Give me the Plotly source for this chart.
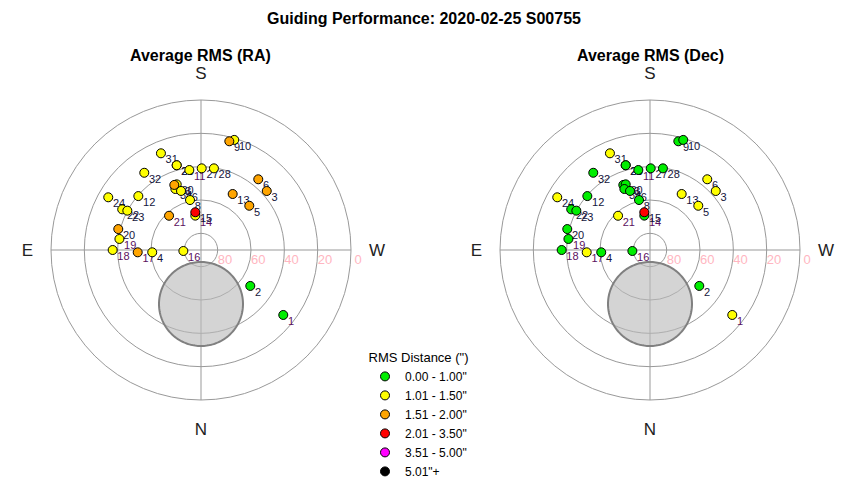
import numpy as np
import plotly.graph_objects as go

# ---------------- data ----------------
labels = ["1", "2", "3", "4", "5", "6", "8", "9", "10", "11", "12", "13", "14", "15",
          "16", "17", "18", "19", "20", "21", "22", "23", "24", "25", "26", "27", "28",
          "31", "32", "33", "30", "34", "36"]
azimuth = [308.3, 306.1, 228.1, 87.3, 227.5, 219.0, 167.6, 194.6, 196.8, 171.7, 130.7, 209.5,
           170.6, 171.4, 86.8, 87.9, 90.0, 97.7, 104.2, 137.0, 117.3, 118.1, 119.6, 164.0,
           164.0, 180.5, 189.0, 157.5, 143.7, 157.7, 159.7, 157.2, 161.3]
altitude = [27.1, 53.4, 37.0, 60.7, 50.7, 35.4, 59.3, 22.6, 21.0, 41.5, 40.4, 51.4,
            69.1, 67.1, 79.4, 52.0, 37.0, 40.6, 38.8, 61.9, 36.8, 39.9, 26.0, 37.1,
            37.1, 41.0, 40.4, 27.2, 32.5, 47.8, 48.0, 50.3, 52.6]
# RMS category index (0..5) per point
ra_class = [0, 0, 2, 1, 2, 2, 1, 2, 1, 1, 1, 2, 1, 3, 1, 2, 1, 1, 2, 2, 1, 1, 1, 1,
            1, 1, 1, 1, 1, 2, 1, 1, 1]
dec_class = [1, 0, 1, 0, 1, 1, 0, 0, 0, 0, 0, 1, 0, 3, 0, 1, 0, 0, 0, 1, 0, 0, 1, 0,
             0, 0, 0, 1, 0, 0, 0, 0, 0]
purple_labels = ["1", "11", "14", "16", "17", "18", "19", "21"]

class_names = ['0.00 - 1.00"', '1.01 - 1.50"', '1.51 - 2.00"', '2.01 - 3.50"',
               '3.51 - 5.00"', '5.01"+']
class_colors = ["#00EE00", "#FFFF00", "#FFA500", "#FF0000", "#FF00FF", "#000000"]

# obstruction disc (altitude/azimuth of centre, radius in degrees)
disc_alt, disc_az, disc_radius = 57.6, 0.0, 25.2

radial_ticks = [80, 60, 40, 20, 0]
compass_vals = [0, 90, 180, 270]
compass_text = ["N", "E", "S", "W"]

FONT = "Liberation Sans, Arial, sans-serif"
GRID = "#999999"

W, H = 850, 480


def xp(px):
    return px / W


def yp(py):
    return 1 - py / H


# ---------------- figure ----------------
fig = go.Figure()

# disc outline in polar coordinates
t = np.linspace(0, 2 * np.pi, 181)
rho0 = 90 - disc_alt
u = disc_radius * np.cos(t) + rho0 * np.sin(np.radians(disc_az))
v = disc_radius * np.sin(t) + rho0 * np.cos(np.radians(disc_az))
disc_rho = np.hypot(u, v)
disc_theta = np.degrees(np.arctan2(u, v)) % 360
disc_r = 90 - disc_rho

label_colors = ["#5C1060" if l in purple_labels else "#14143C" for l in labels]
label_text = ["\u00a0" + l for l in labels]

for k, (sub, cls) in enumerate([("polar", ra_class), ("polar2", dec_class)]):
    fig.add_trace(go.Scatterpolar(
        r=disc_r, theta=disc_theta, mode="lines", fill="toself",
        fillcolor="rgba(185,185,185,0.62)", line=dict(color="#808080", width=2),
        hoverinfo="skip", showlegend=False, subplot=sub))
    # labels
    fig.add_trace(go.Scatterpolar(
        r=altitude, theta=azimuth, mode="markers+text", text=label_text,
        textposition="bottom right",
        textfont=dict(family=FONT, size=11, color=label_colors),
        marker=dict(size=1, color="rgba(0,0,0,0)"),
        hoverinfo="skip", showlegend=False, subplot=sub))
    for c in range(len(class_names)):
        idx = [i for i, v_ in enumerate(cls) if v_ == c]
        rr = [altitude[i] for i in idx] or [None]
        tt = [azimuth[i] for i in idx] or [None]
        fig.add_trace(go.Scatterpolar(
            r=rr, theta=tt,
            mode="markers", name=class_names[c], legendgroup=class_names[c],
            showlegend=(k == 0),
            marker=dict(size=9, color=class_colors[c], line=dict(color="black", width=1)),
            text=[labels[i] for i in idx] or [""], hovertemplate="%{text}<extra></extra>",
            subplot=sub))


def polar_layout(cx):
    return dict(
        domain=dict(x=[xp(cx - 150), xp(cx + 150)], y=[yp(400), yp(100)]),
        bgcolor="white",
        angularaxis=dict(rotation=270, direction="clockwise",
                         tickmode="array", tickvals=compass_vals, ticktext=compass_text,
                         tickfont=dict(family=FONT, size=17, color="#222222"),
                         ticks="outside", ticklen=14, tickcolor="rgba(0,0,0,0)",
                         showgrid=True, gridcolor=GRID, gridwidth=1,
                         showline=True, linecolor=GRID, linewidth=1),
        radialaxis=dict(range=[90, 0], tickmode="array", tickvals=radial_ticks,
                        ticktext=["\u00a0\u00a0\u00a0\u00a0" + str(v_) for v_ in radial_ticks],
                        tickfont=dict(family=FONT, size=13, color="#FFB6C1"),
                        angle=0, showline=False, ticks="",
                        showgrid=True, gridcolor=GRID, gridwidth=1),
    )


fig.update_layout(
    width=W, height=H,
    margin=dict(l=0, r=0, t=0, b=0, autoexpand=False),
    paper_bgcolor="white",
    font=dict(family=FONT, color="black"),
    polar=polar_layout(201),
    polar2=polar_layout(650),
    showlegend=True,
    legend=dict(x=xp(365), y=yp(345), xanchor="left", yanchor="top",
                title=dict(text='RMS Distance (")', font=dict(family=FONT, size=13),
                           side="top center"),
                font=dict(family=FONT, size=12), bgcolor="rgba(0,0,0,0)",
                tracegroupgap=0, itemsizing="trace"),
    annotations=[
        dict(text="<b>Guiding Performance: 2020-02-25 S00755</b>", x=xp(424), y=yp(19),
             xref="paper", yref="paper", showarrow=False, xanchor="center", yanchor="middle",
             font=dict(family=FONT, size=16, color="black")),
        dict(text="<b>Average RMS (RA)</b>", x=xp(200), y=yp(55),
             xref="paper", yref="paper", showarrow=False, xanchor="center", yanchor="middle",
             font=dict(family=FONT, size=16, color="black")),
        dict(text="<b>Average RMS (Dec)</b>", x=xp(650), y=yp(55),
             xref="paper", yref="paper", showarrow=False, xanchor="center", yanchor="middle",
             font=dict(family=FONT, size=16, color="black")),
    ],
)

# remove the default 8px page margin so the 850x480 figure fills the window exactly
fig.write_html("out.html", config={"displayModeBar": False},
               post_script="document.body.style.margin='0';")
